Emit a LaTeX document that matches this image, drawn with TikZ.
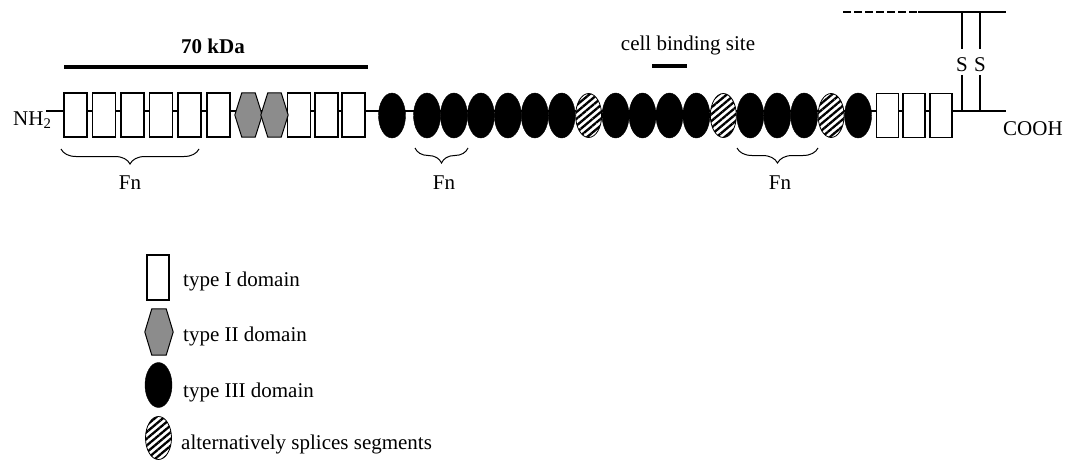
\documentclass[tikz,border=0pt]{standalone}
\usepackage{fontspec}
\setmainfont{Liberation Serif}
\usetikzlibrary{shapes.geometric,decorations.pathreplacing,patterns.meta}
\definecolor{hexgray}{RGB}{140,140,140}

\begin{document}
\begin{tikzpicture}[x=1pt,y=-1pt,
  font=\fontsize{21}{25}\selectfont,
  backbone/.style={line width=1.2pt},
  typeone/.style={draw, line width=1.2pt, fill=white, minimum width=23pt,
    minimum height=44pt, inner sep=0pt},
  typeonesm/.style={typeone, minimum width=22pt},
  hexbox/.style={minimum width=27pt, minimum height=44pt, inner sep=0pt},
  hexline/.style={draw, line width=1pt, fill=hexgray},
  typethree/.style={ellipse, draw=black, fill=black, minimum width=27pt,
    minimum height=45pt, inner sep=0pt},
  splice/.style={ellipse, draw=black, line width=0.8pt, preaction={fill=white},
    pattern={Lines[angle=40,distance=5.2pt,line width=2.3pt]},
    minimum width=26pt, minimum height=44pt, inner sep=0pt},
  fnbrace/.style={decorate, decoration={brace, mirror, amplitude=15pt},
    line width=1pt},
  bar/.style={line width=4pt},
  ssline/.style={line width=1.1pt},
  label/.style={inner sep=0pt}]

\useasboundingbox (0,0) rectangle (1067,460);

% backbone of the chain
\coordinate (nterm) at (46,111);
\coordinate (cterm) at (1006,111);
\draw[backbone] (nterm) -- (cterm);

% N-terminal type I / type II block
\foreach \n/\x in {a1/75.5, a2/104, a3/132.5, a4/161, a5/189.5, a6/218.5,
                   a7/299, a8/326.5, a9/353.5}
  \node[typeone] (\n) at (\x,115) {};
\foreach \n/\x in {h1/248.5, h2/274.5} {
  \node[hexbox] (\n) at (\x,115) {};
  \draw[hexline] (\n.west) -- ([xshift=7pt]\n.north west)
    -- ([xshift=-7pt]\n.north east) -- (\n.east)
    -- ([xshift=-7pt]\n.south east) -- ([xshift=7pt]\n.south west) -- cycle;
}

% type III domains and spliced segments
\node[typethree] (b0) at (392,115.5) {};
\foreach \i in {1,...,17} {
  \pgfmathsetmacro{\xx}{427+26.94*(\i-1)}
  \ifnum\i=7
    \node[splice] (b\i) at (\xx,115.5) {};
  \else\ifnum\i=12
    \node[splice] (b\i) at (\xx,115.5) {};
  \else\ifnum\i=16
    \node[splice] (b\i) at (\xx,115.5) {};
  \else
    \node[typethree] (b\i) at (\xx,115.5) {};
  \fi\fi\fi
}

% C-terminal type I domains
\foreach \n/\x in {c1/887.5, c2/914, c3/941}
  \node[typeonesm] (\n) at (\x,115.5) {};

% termini
\node[label, anchor=base west] (nh) at (13,125) {NH\textsubscript{2}};
\node[label, anchor=base west] (cooh) at (1003,135) {COOH};

% disulfide bridges to the second chain
\coordinate (d0) at (843,12);
\coordinate (d1) at (918,12);
\coordinate (d2) at (1006,12);
\draw[ssline, dash pattern=on 8pt off 3pt] (d0) -- (d1);
\draw[ssline] (d1) -- (d2);
\node[label] (s1) at (962,64.5) {S};
\node[label] (s2) at (980,64.5) {S};
\coordinate (s1t) at (962,12);
\coordinate (s2t) at (980,12);
\coordinate (s1b) at (962,111);
\coordinate (s2b) at (980,111);
\draw[ssline] (s1t) -- ([yshift=8pt]s1.north);
\draw[ssline] ([yshift=-3pt]s1.south) -- (s1b);
\draw[ssline] (s2t) -- ([yshift=8pt]s2.north);
\draw[ssline] ([yshift=-3pt]s2.south) -- (s2b);

% 70 kDa fragment
\coordinate (k0) at (64,67);
\coordinate (k1) at (368,67);
\draw[bar] (k0) -- (k1);
\node[label, anchor=base] (kda) at (213,53) {\bfseries 70 kDa};

% cell binding site
\coordinate (cb0) at (652,66);
\coordinate (cb1) at (687,66);
\draw[bar, line width=3.5pt] (cb0) -- (cb1);
\node[label, anchor=base] (cbs) at (688,51) {cell binding site};

% fibrin binding regions
\draw[fnbrace] (61,149) -- (199,149);
\node[label, anchor=base] (fn1) at (130,189) {Fn};
\draw[fnbrace] (415,148) -- (468,148);
\node[label, anchor=base] (fn2) at (444,189) {Fn};
\draw[fnbrace] (737,148) -- (818,148);
\node[label, anchor=base] (fn3) at (780,189) {Fn};

% legend
\node[typeonesm, minimum height=45pt] (l1) at (158,277.5) {};
\node[label, anchor=base west] (t1) at (183,286) {type I domain};
\node[hexbox, minimum width=28pt, minimum height=46pt] (l2) at (159,332) {};
\draw[hexline] (l2.west) -- ([xshift=7pt]l2.north west)
  -- ([xshift=-7pt]l2.north east) -- (l2.east)
  -- ([xshift=-7pt]l2.south east) -- ([xshift=7pt]l2.south west) -- cycle;
\node[label, anchor=base west] (t2) at (183,341) {type II domain};
\node[typethree] (l3) at (158.5,385) {};
\node[label, anchor=base west] (t3) at (183,397) {type III domain};
\node[splice, minimum height=43pt] (l4) at (158.5,438) {};
\node[label, anchor=base west] (t4) at (181,449) {alternatively splices segments};
\end{tikzpicture}
\end{document}
